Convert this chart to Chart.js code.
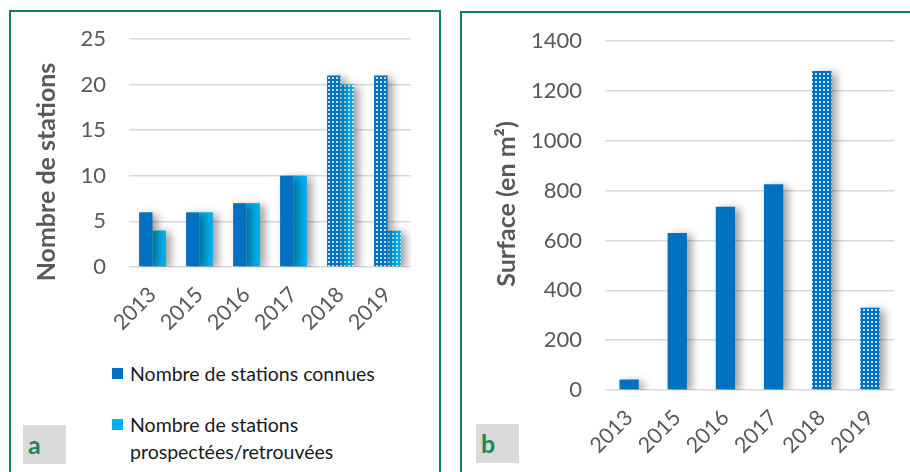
<!DOCTYPE html>
<html>
<head>
<meta charset="utf-8">
<script src="https://cdn.jsdelivr.net/npm/chart.js@4.4.1/dist/chart.umd.min.js"></script>
<style>
  body { margin: 0; width: 910px; height: 472px; background: #fff; position: relative; overflow: hidden; font-family: Lato, "Open Sans", sans-serif; }
  .panel { position: absolute; border: 2px solid #13804f; box-sizing: border-box; }
  #panelA { left: 9px; top: 10px; width: 432px; height: 480px; }
  #panelB { left: 460px; top: 11px; width: 470px; height: 480px; }
  canvas { position: absolute; }
  #chartA { left: 11px; top: 12px; }
  #chartB { left: 462px; top: 12px; }
  .tag { position: absolute; background: #d9d9d9; color: #178a50; font-weight: bold; font-size: 25px; line-height: 39px; width: 43px; height: 39px; box-sizing: border-box; padding-left: 5px; }
  #tagA { left: 23px; top: 425px; }
  #tagB { left: 476px; top: 424px; }
  #legendA { position: absolute; left: 112px; top: 360px; width: 275px; color: #1a1a1a; font-size: 19.5px; }
  .item { display: flex; align-items: flex-start; margin-bottom: 24px; line-height: 27px; }
  .sw { width: 11px; height: 11px; margin-top: 8px; margin-right: 7px; flex: none; }
</style>
</head>
<body>
<div class="panel" id="panelA"></div>
<div class="panel" id="panelB"></div>
<canvas id="chartA" width="428" height="340"></canvas>
<canvas id="chartB" width="448" height="460"></canvas>
<div id="legendA"></div>
<div class="tag" id="tagA">a</div>
<div class="tag" id="tagB">b</div>
<script>
// data
const years = ["2013", "2015", "2016", "2017", "2018", "2019"];
const stationsConnues = [6, 6, 7, 10, 21, 21];
const stationsRetrouvees = [4, 6, 7, 10, 20, 4];
const surface = [42, 630, 735, 825, 1280, 330];
const ticksStations = [0, 5, 10, 15, 20, 25];
const ticksSurface = [0, 200, 400, 600, 800, 1000, 1200, 1400];
const dottedYears = ["2018", "2019"];

const labelConnues = "Nombre de stations connues";
const labelRetrouvees = "Nombre de stations prospectées/retrouvées";

const darkBlue = "#0070c0";
const lightBlue = "#00b0f0";
const tickColor = "#595959";
const gridColor = "#d9d9d9";

document.addEventListener("DOMContentLoaded", () => {

    // small dotted fill used for the 2018 / 2019 bars
    function dots(base, dot) {
        const c = document.createElement("canvas");
        c.width = 4; c.height = 4;
        const g = c.getContext("2d");
        g.fillStyle = base;
        g.fillRect(0, 0, 4, 4);
        g.fillStyle = dot;
        g.fillRect(1, 1, 2, 2);
        return g.createPattern(c, "repeat");
    }
    const darkDots = dots(darkBlue, "#bfe0f7");
    const lightDots = dots(lightBlue, "#c8f0ff");

    const fillsFor = (solid, dotted) => years.map(y => dottedYears.includes(y) ? dotted : solid);

    // soft drop shadow behind the bars
    const barShadow = {
        id: "barShadow",
        beforeDatasetsDraw(chart) {
            const ctx = chart.ctx;
            ctx.save();
            ctx.shadowColor = "rgba(0,0,0,0.38)";
            ctx.shadowBlur = 8;
            ctx.shadowOffsetX = 5;
            ctx.shadowOffsetY = 2;
        },
        afterDatasetsDraw(chart) {
            chart.ctx.restore();
        }
    };

    // rotated y axis title, placed like the original
    function yTitle(text, x, y, size) {
        return {
            id: "yTitle",
            afterDraw(chart) {
                const ctx = chart.ctx;
                ctx.save();
                ctx.translate(x, y);
                ctx.rotate(-Math.PI / 2);
                ctx.font = `bold ${size}px Lato, sans-serif`;
                ctx.fillStyle = tickColor;
                ctx.textAlign = "center";
                ctx.textBaseline = "middle";
                ctx.fillText(text, 0, 0);
                ctx.restore();
            }
        };
    }

    function scales(ticks, yWidth, xHeight) {
        return {
            x: {
                grid: { display: false, drawTicks: false },
                border: { display: false },
                ticks: { color: tickColor, font: { family: "Lato", size: 21.5 }, minRotation: 45, maxRotation: 45, padding: 15 },
                afterFit: s => { s.height = xHeight; s.paddingLeft = 0; s.paddingRight = 0; }
            },
            y: {
                min: ticks[0],
                max: ticks[ticks.length - 1],
                ticks: { stepSize: ticks[1] - ticks[0], color: tickColor, font: { family: "Lato", size: 22 }, padding: 23, callback: v => String(v) },
                grid: { color: gridColor, lineWidth: 1.5, drawTicks: false },
                border: { display: false },
                afterFit: s => { s.width = yWidth; s.paddingTop = 0; s.paddingBottom = 0; }
            }
        };
    }

    // --- chart a : number of stations ---
    new Chart(document.getElementById("chartA"), {
        type: "bar",
        data: {
            labels: years,
            datasets: [
                { label: labelConnues, data: stationsConnues, backgroundColor: fillsFor(darkBlue, darkDots), categoryPercentage: 0.57, barPercentage: 1 },
                { label: labelRetrouvees, data: stationsRetrouvees, backgroundColor: fillsFor(lightBlue, lightDots), categoryPercentage: 0.57, barPercentage: 1 }
            ]
        },
        options: {
            responsive: false,
            animation: false,
            layout: { padding: { left: 0, top: 27, right: 28, bottom: 0 } },
            plugins: { legend: { display: false }, tooltip: { enabled: false } },
            scales: scales(ticksStations, 118, 85)
        },
        plugins: [barShadow, yTitle("Nombre de stations", 36, 160, 25)]
    });

    // --- chart b : surface ---
    new Chart(document.getElementById("chartB"), {
        type: "bar",
        data: {
            labels: years,
            datasets: [
                { label: "Surface (en m²)", data: surface, backgroundColor: fillsFor(darkBlue, darkDots), categoryPercentage: 1, barPercentage: 0.4 }
            ]
        },
        options: {
            responsive: false,
            animation: false,
            layout: { padding: { left: 0, top: 29, right: 16, bottom: 0 } },
            plugins: { legend: { display: false }, tooltip: { enabled: false } },
            scales: scales(ticksSurface, 143, 82)
        },
        plugins: [barShadow, yTitle("Surface (en m²)", 45, 192, 25)]
    });

    // legend for chart a, built from the dataset labels
    const legend = document.getElementById("legendA");
    [[labelConnues, darkBlue], [labelRetrouvees, lightBlue]].forEach(([text, color]) => {
        const item = document.createElement("div");
        item.className = "item";
        const sw = document.createElement("span");
        sw.className = "sw";
        sw.style.background = color;
        const tx = document.createElement("span");
        tx.textContent = text;
        item.appendChild(sw);
        item.appendChild(tx);
        legend.appendChild(item);
    });
});
</script>
</body>
</html>
